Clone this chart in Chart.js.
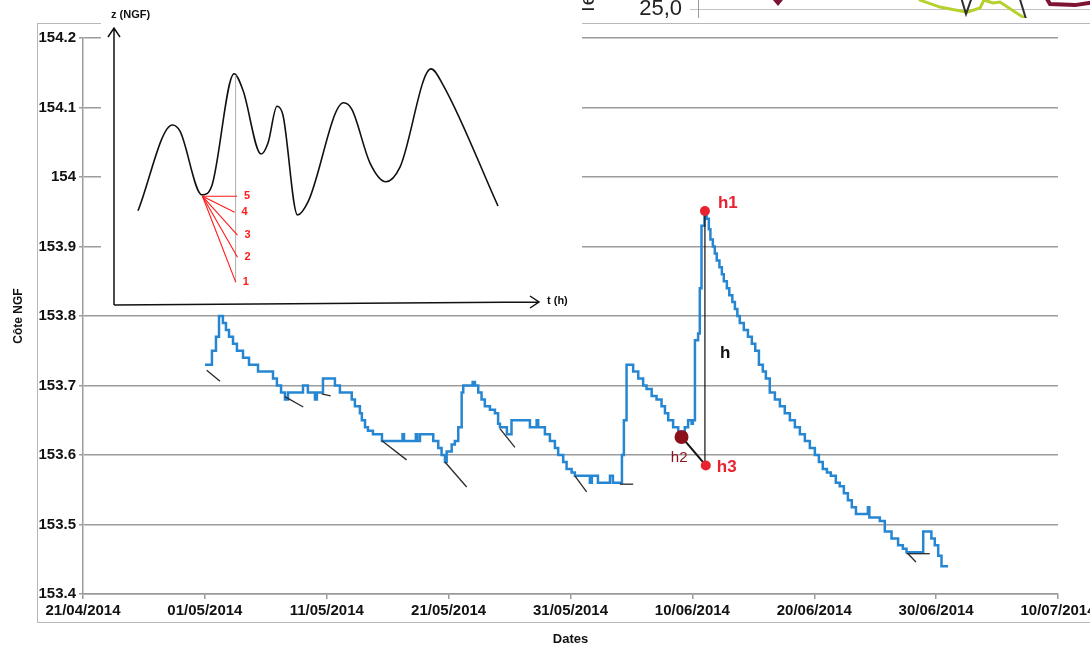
<!DOCTYPE html>
<html>
<head>
<meta charset="utf-8">
<script src="https://cdn.jsdelivr.net/npm/chart.js@4.4.1/dist/chart.umd.min.js"></script>
<style>
  html, body { margin: 0; padding: 0; background: #fff; width: 1090px; height: 648px; overflow: hidden; }
  #main { position: absolute; left: 0; top: 0; }
  #strip { position: absolute; left: 560px; top: 0; width: 530px; height: 20px; overflow: hidden; }
  #stripChart { position: absolute; left: 0; top: -100px; }
  #inset { position: absolute; left: 101px; top: 0; background: #fff; }
</style>
</head>
<body>
<canvas id="main" width="1090" height="648" style="width:1090px;height:648px"></canvas>
<div id="strip"><canvas id="stripChart" width="560" height="118" style="width:560px;height:118px"></canvas></div>
<canvas id="inset" width="481" height="312" style="width:481px;height:312px"></canvas>
<script>
// ---- Water level record (days counted from 21/04/2014) ----
const dateTickLabels = ['21/04/2014', '01/05/2014', '11/05/2014', '21/05/2014', '31/05/2014',
                        '10/06/2014', '20/06/2014', '30/06/2014', '10/07/2014'];

const levelDays = [
  10.01, 10.58, 10.91, 11.16, 11.48, 11.73, 11.98, 12.31, 12.63, 13.13, 13.62, 14.36,
  15.59, 15.91, 16.25, 16.57, 16.82, 18.05, 18.45, 19.03, 19.19, 19.69, 20.67, 21.08,
  22.05, 22.31, 22.72, 22.88, 23.14, 23.38, 23.79, 24.53, 26.22, 26.34, 27.31, 27.43,
  27.65, 28.74, 29.15, 29.42, 29.70, 29.84, 30.25, 30.51, 30.79, 31.07, 31.20, 31.97,
  32.16, 32.43, 32.70, 32.97, 33.39, 33.80, 34.06, 34.21, 34.78, 35.16, 36.67, 37.22,
  37.35, 37.90, 38.31, 38.72, 38.99, 39.40, 39.68, 40.09, 40.36, 41.59, 41.75, 42.25,
  43.24, 43.48, 44.22, 44.38, 44.60, 45.14, 45.56, 45.96, 46.24, 46.66, 47.06, 47.47,
  47.75, 48.02, 48.42, 48.84, 49.14, 49.38, 49.65, 49.94, 50.04, 50.21, 50.47, 50.61,
  50.75, 50.99, 51.17, 51.35, 51.48, 51.68, 51.84, 52.00, 52.22, 52.42, 52.58, 52.83,
  53.03, 53.28, 53.49, 53.69, 53.89, 54.22, 54.56, 54.88, 55.16, 55.46, 55.78, 56.03,
  56.35, 56.77, 57.18, 57.58, 58.00, 58.41, 58.82, 59.23, 59.64, 60.05, 60.38, 60.70,
  61.04, 61.36, 61.77, 62.09, 62.43, 62.76, 63.08, 63.42, 64.40, 64.52, 65.38, 65.79,
  66.34, 66.88, 67.27, 67.57, 68.94, 69.61, 69.89, 70.17, 70.44, 70.98
];
const levelNGF = [
  153.73, 153.75, 153.77, 153.80, 153.79, 153.78, 153.77, 153.76, 153.75, 153.74, 153.73, 153.72,
  153.71, 153.70, 153.69, 153.68, 153.69, 153.70, 153.69, 153.68, 153.69, 153.71, 153.70, 153.69,
  153.68, 153.67, 153.66, 153.65, 153.64, 153.635, 153.63, 153.62, 153.63, 153.62, 153.63, 153.62,
  153.63, 153.62, 153.61, 153.60, 153.59, 153.605, 153.615, 153.62, 153.64, 153.69, 153.70, 153.705,
  153.70, 153.69, 153.68, 153.67, 153.665, 153.66, 153.645, 153.64, 153.63, 153.65, 153.64, 153.65,
  153.64, 153.63, 153.62, 153.61, 153.60, 153.59, 153.58, 153.575, 153.57, 153.56, 153.57, 153.56,
  153.57, 153.56, 153.60, 153.65, 153.73, 153.72, 153.71, 153.70, 153.695, 153.685, 153.68, 153.67,
  153.66, 153.65, 153.64, 153.63, 153.625, 153.64, 153.65, 153.645, 153.65, 153.765, 153.775, 153.84,
  153.93, 153.95, 153.94, 153.925, 153.91, 153.90, 153.89, 153.88, 153.87, 153.86, 153.85, 153.84,
  153.83, 153.82, 153.81, 153.80, 153.79, 153.78, 153.77, 153.76, 153.75, 153.73, 153.72, 153.71,
  153.69, 153.68, 153.67, 153.66, 153.65, 153.64, 153.63, 153.62, 153.61, 153.60, 153.59, 153.58,
  153.575, 153.57, 153.56, 153.555, 153.545, 153.535, 153.525, 153.515, 153.525, 153.51, 153.505, 153.49,
  153.48, 153.47, 153.465, 153.46, 153.49, 153.48, 153.47, 153.455, 153.44, 153.44
];

// Recession tangents drawn from each local low
const tangentStartDays = [10.15, 16.57, 19.58, 24.50, 29.70, 34.21, 40.36, 44.05, 67.57, 67.70];
const tangentStartNGF  = [153.722, 153.684, 153.688, 153.621, 153.590, 153.638, 153.570, 153.558, 153.458, 153.458];
const tangentEndDays   = [11.24, 18.07, 20.32, 26.55, 31.48, 35.44, 41.32, 45.14, 69.48, 68.34];
const tangentEndNGF    = [153.706, 153.669, 153.685, 153.593, 153.554, 153.611, 153.547, 153.558, 153.458, 153.446];

// Points of the h construction: h1 (peak), h2 (pre-event level), h3 (extrapolated level)
const hNames = ['h1', 'h2', 'h3'];
const hDays  = [51.03, 49.11, 51.10];
const hNGF   = [153.951, 153.626, 153.585];

// ---- Schematic inset: z (NGF) against t (h) ----
const insetHours = [5.65, 13.76, 15.53, 20.71, 23.06, 28.24, 30.35, 34.59, 36.24, 38.35, 39.76,
                    43.18, 45.65, 54.02, 56.0, 60.24, 64.0, 67.29, 74.59, 77.41, 90.35];
const insetZ = [153.936, 154.060, 154.051, 153.959, 153.973, 154.134, 154.110, 154.018, 154.034, 154.087, 154.074,
                153.930, 153.949, 154.092, 154.082, 154.005, 153.978, 153.999, 154.141, 154.118, 153.943];
const fanOriginHour = 20.82;
const fanOriginZ = 153.957;
const fanNames = ['1', '2', '3', '4', '5'];
const fanEndHours = [28.64, 29.06, 29.06, 28.38, 28.94];
const fanEndZ = [153.833, 153.869, 153.901, 153.934, 153.957];
const peakGuideHours = [28.6, 28.6];
const peakGuideZ = [154.132, 153.833];

// ---- Strip of the neighbouring temperature chart ----
const stripYTicks = [25, 27.5, 30];
const greenT = [49.05, 52.61, 57.35, 63.74, 66.82, 67.77, 69.91, 71.56, 74.41, 77.73, 79.86];
const greenV = [26.34, 25.42, 25.10, 24.87, 25.06, 25.42, 25.29, 25.33, 24.97, 24.55, 23.59];
const darkT = [59.72, 63.51, 68.01, 73.46, 77.73, 79.15];
const darkV = [27.25, 24.78, 27.25, 27.25, 24.55, 23.82];
const redT = [12.32, 18.96, 25.36, 78.67, 83.41, 89.34, 94.08, 100];
const redV = [26.80, 25.29, 26.80, 26.80, 25.24, 25.19, 25.33, 26.11];

// ---------------------------------------------------------------
const FONT = 'Liberation Sans';
Chart.defaults.font.family = FONT;
const zip = (xs, ys) => xs.map((x, i) => ({ x: x, y: ys[i] }));
const segment = (x0, y0, x1, y1) => [{ x: x0, y: y0 }, { x: x1, y: y1 }];

const RED = '#e8222f';
const DARK_RED = '#8c0f1c';

const tangentSets = tangentStartDays.map((d, i) => ({
  data: segment(d, tangentStartNGF[i], tangentEndDays[i], tangentEndNGF[i]),
  borderColor: '#2a2a2a', borderWidth: 1.3, pointRadius: 0, fill: false
}));

const framePlugin = {
  id: 'frame',
  beforeDraw(chart) {
    const ctx = chart.ctx;
    ctx.save();
    ctx.fillStyle = '#fff';
    ctx.fillRect(0, 0, chart.width, chart.height);
    ctx.strokeStyle = '#b8b8b8';
    ctx.lineWidth = 1;
    ctx.strokeRect(37.5, 23.5, 1100, 599);
    ctx.restore();
  }
};

const hLabelPlugin = {
  id: 'hLabels',
  afterDatasetsDraw(chart) {
    const ctx = chart.ctx, xs = chart.scales.x, ys = chart.scales.y;
    const px = hDays.map(d => xs.getPixelForValue(d));
    const py = hNGF.map(v => ys.getPixelForValue(v));
    ctx.save();
    ctx.textBaseline = 'middle';
    ctx.textAlign = 'left';
    ctx.font = 'bold 17px "' + FONT + '"';
    ctx.fillStyle = RED;
    ctx.fillText(hNames[0], px[0] + 13, py[0] - 8);
    ctx.fillText(hNames[2], px[2] + 11, py[2] + 2);
    ctx.fillStyle = '#111';
    ctx.fillText('h', px[0] + 15, (py[0] + py[2]) / 2 + 15);
    ctx.font = '15px "' + FONT + '"';
    ctx.fillStyle = DARK_RED;
    ctx.textAlign = 'right';
    ctx.fillText(hNames[1], px[1] + 6, py[1] + 21);
    ctx.restore();
  }
};

new Chart(document.getElementById('main'), {
  type: 'line',
  data: {
    datasets: [
      { data: [{ x: hDays[0], y: hNGF[0] }, { x: hDays[2], y: hNGF[2] }], showLine: false,
        pointRadius: 5, pointBackgroundColor: RED, pointBorderWidth: 0 },
      { data: [{ x: hDays[1], y: hNGF[1] }], showLine: false,
        pointRadius: 7, pointBackgroundColor: DARK_RED, pointBorderWidth: 0 },
      { data: segment(hDays[1], hNGF[1], hDays[2], hNGF[2]), borderColor: '#111', borderWidth: 2,
        pointRadius: 0, fill: false },
      { data: segment(hDays[0], hNGF[0], hDays[0], hNGF[2]), borderColor: '#111', borderWidth: 1.2,
        pointRadius: 0, fill: false },
      ...tangentSets,
      { data: zip(levelDays, levelNGF), stepped: true, borderColor: '#2786d1', borderWidth: 2.5,
        pointRadius: 0, fill: false }
    ]
  },
  options: {
    responsive: false,
    animation: false,
    events: [],
    layout: { padding: { left: 0, top: 38, right: 32, bottom: 0 } },
    plugins: { legend: { display: false }, tooltip: { enabled: false } },
    scales: {
      x: {
        type: 'linear', min: 0, max: 80,
        ticks: {
          stepSize: 10, autoSkip: false, maxRotation: 0, padding: 3, color: '#111',
          font: { family: FONT, weight: 'bold', size: 15 },
          callback: v => dateTickLabels[Math.round(v / 10)]
        },
        grid: { drawOnChartArea: false, tickLength: 5, color: '#9a9a9a', lineWidth: 1.5 },
        border: { color: '#9a9a9a', width: 1.5 },
        title: { display: true, text: 'Dates', color: '#111',
                 font: { family: FONT, weight: 'bold', size: 13 }, padding: { top: 0, bottom: 1 } },
        afterFit(s) { s.height = 54; s.paddingLeft = 0; s.paddingRight = 0; }
      },
      y: {
        type: 'linear', min: 153.4, max: 154.2,
        ticks: {
          stepSize: 0.1, padding: 3, color: '#111',
          font: { family: FONT, weight: 'bold', size: 15 },
          callback: v => String(Number(v.toFixed(1)))
        },
        grid: { color: '#9c9c9c', lineWidth: 1.5, tickLength: 4 },
        border: { color: '#9c9c9c', width: 1.5 },
        title: { display: true, text: 'Côte NGF', color: '#111',
                 font: { family: FONT, weight: 'bold', size: 12 }, padding: { top: 11, bottom: 0 } },
        afterFit(s) { s.width = 83; s.paddingTop = 0; s.paddingBottom = 0; }
      }
    }
  },
  plugins: [framePlugin, hLabelPlugin]
});

// ---- Inset: schematic hydrograph with tangent fan ----
const insetAxesPlugin = {
  id: 'insetAxes',
  afterDraw(chart) {
    const ctx = chart.ctx, a = chart.chartArea;
    const xs = chart.scales.x, ys = chart.scales.y;
    ctx.save();
    ctx.strokeStyle = '#111';
    ctx.lineWidth = 1.5;
    ctx.beginPath();
    ctx.moveTo(a.left, a.bottom);
    ctx.lineTo(a.left, a.top);
    ctx.moveTo(a.left - 6, a.top + 9);
    ctx.lineTo(a.left, a.top);
    ctx.lineTo(a.left + 6, a.top + 9);
    ctx.moveTo(a.left, a.bottom);
    ctx.lineTo(a.right, a.bottom - 3);
    ctx.moveTo(a.right - 9, a.bottom - 9);
    ctx.lineTo(a.right, a.bottom - 3);
    ctx.lineTo(a.right - 9, a.bottom + 3);
    ctx.stroke();

    ctx.fillStyle = '#111';
    ctx.font = 'bold 11px "' + FONT + '"';
    ctx.textBaseline = 'middle';
    ctx.textAlign = 'left';
    ctx.fillText('z (NGF)', a.left - 3, 15);
    ctx.fillText('t (h)', a.right + 8, a.bottom - 4);

    ctx.fillStyle = '#ff1a1a';
    fanNames.forEach((n, i) => {
      ctx.fillText(n, xs.getPixelForValue(fanEndHours[i]) + 7, ys.getPixelForValue(fanEndZ[i]));
    });
    ctx.restore();
  }
};

const fanSets = fanEndHours.map((h, i) => ({
  data: segment(fanOriginHour, fanOriginZ, h, fanEndZ[i]),
  borderColor: '#ff1a1a', borderWidth: 1.1, pointRadius: 0, fill: false
}));

new Chart(document.getElementById('inset'), {
  type: 'line',
  data: {
    datasets: [
      ...fanSets,
      { data: zip(peakGuideHours, peakGuideZ), borderColor: '#b5b5b5', borderWidth: 1,
        pointRadius: 0, fill: false },
      { data: zip(insetHours, insetZ), borderColor: '#111', borderWidth: 1.6,
        cubicInterpolationMode: 'monotone', pointRadius: 0, fill: false }
    ]
  },
  options: {
    responsive: false,
    animation: false,
    events: [],
    layout: { padding: { left: 13, right: 43, top: 28, bottom: 7 } },
    plugins: { legend: { display: false }, tooltip: { enabled: false } },
    scales: {
      x: { type: 'linear', display: false, min: 0, max: 100 },
      y: { type: 'linear', display: false, min: 153.8, max: 154.2 }
    }
  },
  plugins: [insetAxesPlugin]
});

// ---- Strip: lower edge of the temperature chart ----
new Chart(document.getElementById('stripChart'), {
  type: 'line',
  data: {
    datasets: [
      { data: zip(darkT, darkV), borderColor: '#2f2f2f', borderWidth: 2, pointRadius: 0, fill: false },
      { data: zip(greenT, greenV), borderColor: '#b8d02c', borderWidth: 3, pointRadius: 0, fill: false },
      { data: zip(redT, redV), borderColor: '#7d1434', borderWidth: 4, pointRadius: 0, fill: false }
    ]
  },
  options: {
    responsive: false,
    animation: false,
    events: [],
    layout: { padding: 0 },
    plugins: { legend: { display: false }, tooltip: { enabled: false } },
    scales: {
      x: { type: 'linear', display: false, min: 0, max: 100 },
      y: {
        type: 'linear', min: 24.6, max: 30,
        afterBuildTicks(s) { s.ticks = stripYTicks.map(v => ({ value: v })); },
        ticks: { color: '#222', padding: 8, font: { family: FONT, size: 22 },
                 callback: v => v.toFixed(1).replace('.', ',') },
        grid: { color: '#c4c4c4', lineWidth: 1, tickLength: 8 },
        border: { color: '#9a9a9a' },
        title: { display: true, text: 'Température', color: '#222',
                 font: { family: FONT, size: 20 }, padding: { top: 16, bottom: 0 } },
        afterFit(s) { s.width = 138; s.paddingTop = 0; s.paddingBottom = 0; }
      }
    }
  }
});
</script>
</body>
</html>
